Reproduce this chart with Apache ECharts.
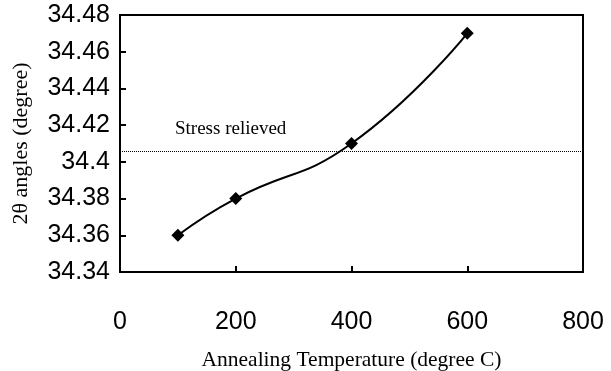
<!DOCTYPE html>
<html>
<head>
<meta charset="utf-8">
<script src="https://cdn.jsdelivr.net/npm/echarts@6/dist/echarts.min.js"></script>
<style>
  html, body { margin: 0; padding: 0; background: #fff; }
  #chart { width: 611px; height: 371px; }
</style>
</head>
<body>
<div id="chart"></div>
<script>
// Annealing temperature (°C) and measured 2θ peak position (degree)
const temperatures = [100, 200, 400, 600];
const angles = [34.36, 34.38, 34.41, 34.47];
// Reference level of the stress-relieved peak
const stressRelievedAngle = 34.406;
const stressLabel = 'Stress relieved';
const xTitle = 'Annealing Temperature (degree C)';
const yTitle = '2θ angles (degree)';

const chart = echarts.init(document.getElementById('chart'), null, { renderer: 'canvas' });

const tickFont = { fontFamily: 'Liberation Sans, Arial, sans-serif', fontSize: 25, color: '#000' };
const serif = 'Liberation Serif, Times New Roman, serif';

chart.setOption({
  animation: false,
  backgroundColor: '#fff',
  grid: {
    left: 120, top: 15, right: 28, bottom: 99,
    outerBoundsMode: 'none', containLabel: false,
    show: true, borderColor: '#000', borderWidth: 2, backgroundColor: 'transparent'
  },
  xAxis: {
    type: 'value', min: 0, max: 800, interval: 200,
    name: xTitle, nameLocation: 'middle', nameGap: 77,
    nameTextStyle: { fontFamily: serif, fontSize: 21.5, color: '#000' },
    axisLine: { show: true, lineStyle: { color: '#000', width: 2 } },
    axisTick: { show: true, inside: true, length: 6, lineStyle: { color: '#000', width: 2 } },
    axisLabel: Object.assign({ margin: 38 }, tickFont),
    splitLine: { show: false }
  },
  yAxis: {
    type: 'value', min: 34.34, max: 34.48, interval: 0.02,
    name: yTitle, nameLocation: 'middle', nameGap: 88, nameRotate: 90,
    nameTextStyle: { fontFamily: serif, fontSize: 22, color: '#000' },
    axisLine: { show: true, lineStyle: { color: '#000', width: 2 } },
    axisTick: { show: true, inside: true, length: 6, lineStyle: { color: '#000', width: 2 } },
    axisLabel: Object.assign({ margin: 10, formatter: v => String(+v.toFixed(2)) }, tickFont),
    splitLine: { show: false }
  },
  series: [{
    type: 'line',
    data: temperatures.map((t, i) => [t, angles[i]]),
    smooth: 0.5,
    symbol: 'diamond',
    symbolSize: 13,
    itemStyle: { color: '#000' },
    lineStyle: { color: '#000', width: 2 },
    markLine: {
      silent: true,
      precision: 3,
      symbol: ['none', 'none'],
      lineStyle: { color: '#000', width: 1, type: [1, 1] },
      label: {
        show: true, position: 'insideStartTop', distance: [55, 12],
        formatter: stressLabel,
        fontFamily: serif, fontSize: 19, color: '#000'
      },
      data: [{ yAxis: stressRelievedAngle }]
    }
  }]
});
</script>
</body>
</html>
